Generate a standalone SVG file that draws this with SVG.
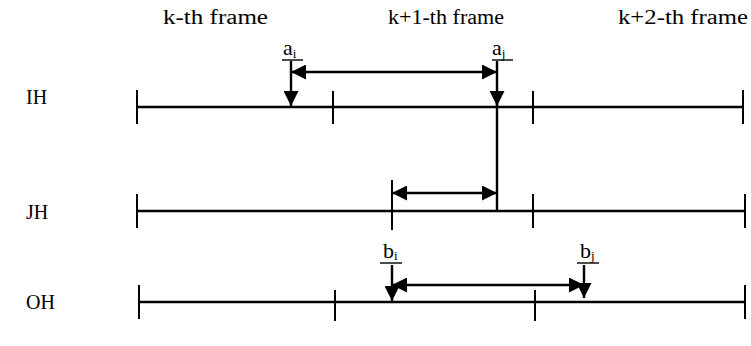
<svg xmlns="http://www.w3.org/2000/svg" width="751" height="346" viewBox="0 0 751 346">
<style>
text{font-family:"Liberation Serif","Times New Roman",serif;fill:#000}
.hd{font-size:20px}
.lb{font-size:20px}
.sym{font-size:22px}
.sub{font-size:13px}
.ln{stroke:#000;stroke-width:2.5;fill:none}
.tk{stroke:#000;stroke-width:2;fill:none}
.ar{stroke:#000;stroke-width:2.4;fill:none}
.ul{stroke:#000;stroke-width:1.4}
</style>
<defs>
<marker id="ah" viewBox="0 0 10 10" refX="10" refY="5" markerWidth="18" markerHeight="15" markerUnits="userSpaceOnUse" orient="auto-start-reverse">
<path d="M0,0 L10,5 L0,10 Z" fill="#000"/>
</marker>
</defs>
<g id="headers">
<text class="hd" x="163" y="24" textLength="105" lengthAdjust="spacingAndGlyphs">k-th frame</text>
<text class="hd" x="388" y="24" textLength="116" lengthAdjust="spacingAndGlyphs">k+1-th frame</text>
<text class="hd" x="618" y="24" textLength="130" lengthAdjust="spacingAndGlyphs">k+2-th frame</text>
</g>
<g id="IH">
<text class="lb" x="26" y="104">IH</text>
<line class="ln" x1="137" y1="107" x2="743" y2="107"/>
<line class="tk" x1="137" y1="90" x2="137" y2="124"/>
<line class="tk" x1="333" y1="91" x2="333" y2="124"/>
<line class="tk" x1="533" y1="91" x2="533" y2="124"/>
<line class="tk" x1="743" y1="90" x2="743" y2="124"/>
</g>
<g id="JH">
<text class="lb" x="26" y="219">JH</text>
<line class="ln" x1="137" y1="211" x2="745" y2="211"/>
<line class="tk" x1="137" y1="194" x2="137" y2="228"/>
<line class="tk" x1="392" y1="180" x2="392" y2="230"/>
<line class="tk" x1="533" y1="194" x2="533" y2="228"/>
<line class="tk" x1="745" y1="194" x2="745" y2="228"/>
</g>
<g id="OH">
<text class="lb" x="26" y="309">OH</text>
<line class="ln" x1="139" y1="302" x2="745" y2="302"/>
<line class="tk" x1="139" y1="285" x2="139" y2="319"/>
<line class="tk" x1="335" y1="290" x2="335" y2="321"/>
<line class="tk" x1="535" y1="290" x2="535" y2="321"/>
<line class="tk" x1="745" y1="285" x2="745" y2="319"/>
</g>
<g id="a_i">
<text class="sym" x="283" y="55">a<tspan class="sub" dy="3">i</tspan></text>
<line class="ul" x1="282" y1="60" x2="303" y2="60"/>
</g>
<g id="a_j">
<text class="sym" x="492" y="55">a<tspan class="sub" dy="3">j</tspan></text>
<line class="ul" x1="492" y1="60" x2="513" y2="60"/>
</g>
<g id="b_i">
<text class="sym" x="383" y="258">b<tspan class="sub" dy="2">i</tspan></text>
<line class="ul" x1="380" y1="263" x2="402" y2="263"/>
</g>
<g id="b_j">
<text class="sym" x="580" y="258">b<tspan class="sub" dy="2">j</tspan></text>
<line class="ul" x1="577" y1="263" x2="599" y2="263"/>
</g>
<g id="connectors">
<line class="ar" x1="291" y1="61" x2="291" y2="106" marker-end="url(#ah)"/>
<line class="ar" x1="497" y1="61" x2="497" y2="106" marker-end="url(#ah)"/>
<line class="ar" x1="497" y1="100" x2="497" y2="211"/>
<line class="ar" x1="291" y1="72" x2="497" y2="72" marker-start="url(#ah)" marker-end="url(#ah)"/>
<line class="ar" x1="392" y1="193" x2="497" y2="193" marker-start="url(#ah)" marker-end="url(#ah)"/>
<line class="ar" x1="392" y1="265" x2="392" y2="301" marker-end="url(#ah)"/>
<line class="ar" x1="584" y1="265" x2="584" y2="298" marker-end="url(#ah)"/>
<line class="ar" x1="392" y1="285" x2="584" y2="285" marker-start="url(#ah)" marker-end="url(#ah)"/>
</g>
</svg>
